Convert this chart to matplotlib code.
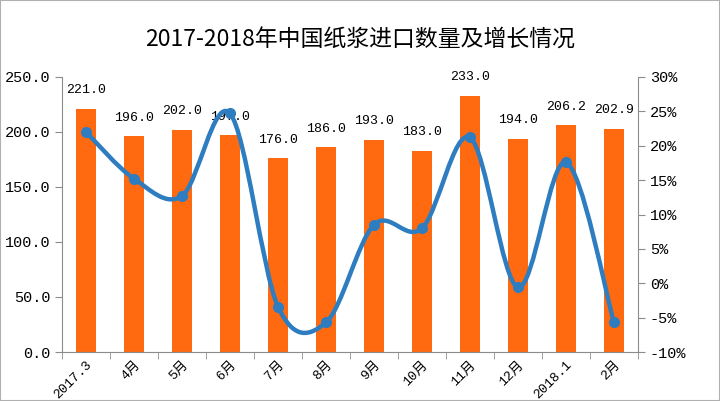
import numpy as np
import matplotlib
matplotlib.use('Agg')
import matplotlib.pyplot as plt
from matplotlib.path import Path
from matplotlib.patches import PathPatch, Rectangle

plt.rcParams['font.family'] = ['Liberation Mono', 'Noto Sans CJK SC', 'DejaVu Sans']

months = ['2017.3', '4月', '5月', '6月', '7月', '8月', '9月', '10月', '11月', '12月', '2018.1', '2月']
volume = [221.0, 196.0, 202.0, 197.0, 176.0, 186.0, 193.0, 183.0, 233.0, 194.0, 206.2, 202.9]
growth = [22.0, 15.2, 12.7, 24.7, -3.4, -5.7, 8.5, 8.0, 21.2, -0.6, 17.6, -5.7]

bar_color = '#FF6A10'
line_color = '#2E7DC0'
axis_color = '#8C8C8C'

fig = plt.figure(figsize=(7.2, 4.01), dpi=100)
ax = fig.add_axes([62/720, 1-352/401, 576/720, 275/401])
ax2 = ax.twinx()

x = np.arange(len(months))
ax.bar(x, volume, width=0.42, color=bar_color, zorder=2)
for xi, v in zip(x, volume):
    ax.annotate('%.1f' % v, (xi, v), xytext=(0, 9), textcoords='offset points',
                ha='center', va='bottom', fontsize=9.5)

ax.set_xlim(-0.5, len(months) - 0.5)
ax.set_ylim(0, 250)
ax.set_yticks(np.arange(0, 251, 50))
ax.set_yticklabels(['%.1f' % t for t in np.arange(0, 251, 50)], fontsize=11)
ax.set_xticks(x)
ax.set_xticklabels(months, rotation=45, ha='right', rotation_mode='anchor', fontsize=9.5)
ax.set_xticks(np.arange(-0.5, len(months)), minor=True)
ax.tick_params(axis='x', which='major', length=0, pad=5)
ax.tick_params(axis='x', which='minor', length=5, color=axis_color)
ax.tick_params(axis='y', length=5, color=axis_color)

ax2.set_ylim(-10, 30)
ax2.set_yticks(np.arange(-10, 31, 5))
ax2.set_yticklabels(['%d%%' % t for t in np.arange(-10, 31, 5)], fontsize=11)
ax2.tick_params(axis='y', length=5, color=axis_color)

for a in (ax, ax2):
    a.spines['top'].set_visible(False)
    for s in ('left', 'right', 'bottom'):
        a.spines[s].set_color(axis_color)
ax.spines['right'].set_visible(False)
ax2.spines['left'].set_visible(False)
ax2.spines['bottom'].set_visible(False)

# smoothed line (bezier segments like Excel's smoothed line)
pts = np.column_stack([x, growth]).astype(float)
verts = [pts[0]]
codes = [Path.MOVETO]
n = len(pts)
for i in range(n - 1):
    p0 = pts[max(i - 1, 0)]
    p1 = pts[i]
    p2 = pts[i + 1]
    p3 = pts[min(i + 2, n - 1)]
    c1 = p1 + (p2 - p0) / 6
    c2 = p2 - (p3 - p1) / 6
    verts += [c1, c2, p2]
    codes += [Path.CURVE4] * 3
ax2.add_patch(PathPatch(Path(verts, codes), fill=False, edgecolor=line_color,
                        linewidth=3.2, zorder=3, capstyle='round'))
ax2.plot(x, growth, 'o', color=line_color, markersize=7, zorder=4)

fig.text(0.5, 1-40/401, '2017-2018年中国纸浆进口数量及增长情况', ha='center', va='center',
         fontsize=16.5, family=['Noto Sans CJK SC', 'DejaVu Sans'])

fig.patches.append(Rectangle((0, 0), 1, 1, transform=fig.transFigure, fill=False,
                             edgecolor='#B0B0B0', linewidth=1.5))

fig.savefig('out.png', dpi=100)
